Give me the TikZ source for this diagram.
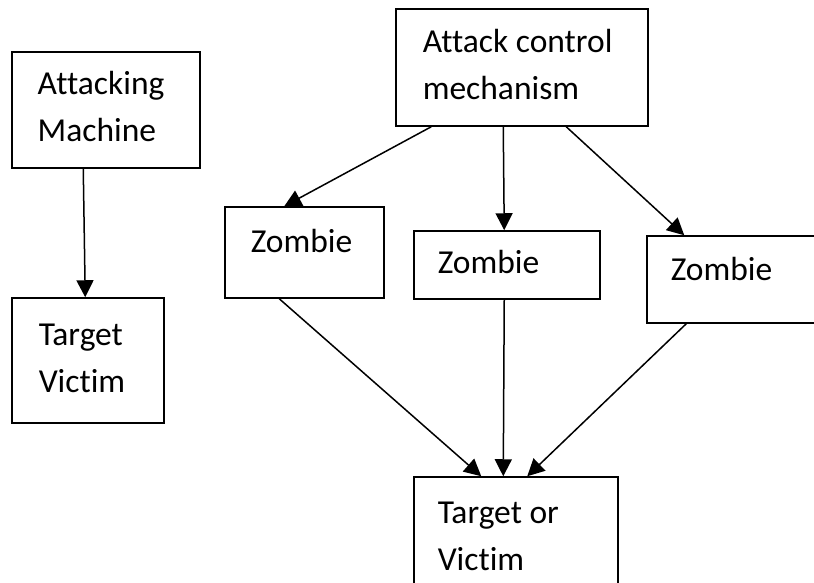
\documentclass[tikz,border=0pt]{standalone}
\usepackage{fontspec}
\setmainfont[Ligatures={NoCommon}]{Carlito}
\usetikzlibrary{arrows.meta,calc}

\begin{document}
\begin{tikzpicture}[x=1pt, y=-1pt, ->, >={Triangle[length=17pt,width=17pt]}, line width=1.5pt]
		\tikzstyle{box}=[draw=black, rectangle, inner sep=0pt, line width=1.5pt]
		\tikzstyle{txt}=[anchor=base west, align=left, inner sep=0pt, text=black, font=\fontsize{33.5}{47}\selectfont]
		\useasboundingbox (0,0) rectangle (814,583);
		\clip (0,0) rectangle (814,583);
		
		\node [box, minimum width=188pt, minimum height=116pt] (am) at (106,110) {};
		\node [box, minimum width=152pt, minimum height=125pt] (tv) at (88,360.5) {};
		
		\node [box, minimum width=252pt, minimum height=117pt] (acm) at (522,67.5) {};
		
		\node [box, minimum width=159pt, minimum height=91pt] (z1) at (304.5,252.5) {};
		\node [box, minimum width=186pt, minimum height=68pt] (z2) at (507,265) {};
		\node [box, minimum width=183pt, minimum height=87pt] (z3) at (738.5,279.5) {};
		
		\node [box, minimum width=204pt, minimum height=123pt] (tov) at (516,538.5) {};
		
		% base of the last line
		\node [txt] (amtxt) at (37,142) {Attacking\\Machine};
		\node [txt] (tvtxt) at (38,392) {Target\\Victim};
		\node [txt] (acmtxt) at (422,100) {Attack control\\mechanism};
		\node [txt] (z1txt) at (250,252) {Zombie};
		\node [txt] (z2txt) at (437,273) {Zombie};
		\node [txt] (z3txt) at (670,280) {Zombie};
		\node [txt] (tovtxt) at (437,570) {Target or\\Victim};
		
		\draw ($(am.south west)+(72,0)$) -- ($(tv.north west)+(74,0)$);
		\draw ($(acm.south west)+(36,0)$) -- ($(z1.north west)+(60,0)$);
		\draw ($(acm.south west)+(108,0)$) -- ($(z2.north west)+(91,0)$);
		\draw ($(acm.south west)+(171,0)$) -- ($(z3.north west)+(38,0)$);
		\draw ($(z1.south west)+(55,0)$) -- ($(tov.north west)+(68,0)$);
		\draw ($(z2.south west)+(91,0)$) -- ($(tov.north west)+(90,0)$);
		\draw ($(z3.south west)+(40,0)$) -- ($(tov.north west)+(114,0)$);
	\end{tikzpicture}
\end{document}
